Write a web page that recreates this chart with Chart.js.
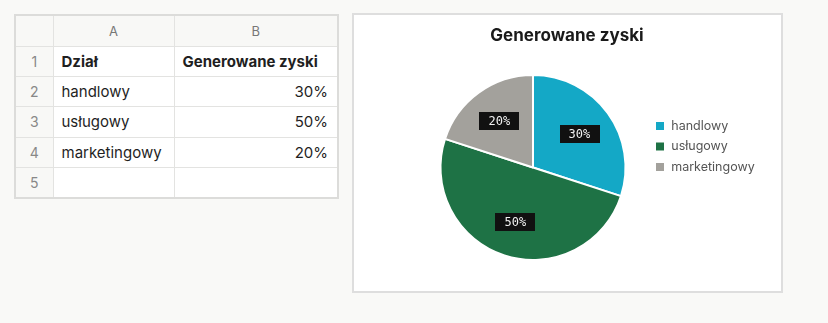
<!DOCTYPE html>
<html>
<head>
<meta charset="utf-8">
<script src="https://cdn.jsdelivr.net/npm/chart.js@4.4.1/dist/chart.umd.min.js"></script>
<style>
  html, body { margin: 0; padding: 0; }
  body { width: 828px; height: 323px; background: #f9f9f7; position: relative; overflow: hidden; font-family: Inter, "Noto Sans", sans-serif; }
  #sheet { position: absolute; left: 14px; top: 14px; border-collapse: collapse; border: 2px solid #dcdcda; background: #fff; }
  #sheet td { border: 1px solid #e3e3e1; height: 30.4px; padding: 0 8px; font-size: 15px; color: #1f1f1f; box-sizing: border-box; }
  #sheet tr.hdr td { height: 31px; background: #f8f8f6; color: #777; font-size: 13px; text-align: center; }
  #sheet td.rn { width: 38px; background: #f8f8f6; color: #888; text-align: center; font-size: 14px; padding: 0; }
  #sheet td.ca { width: 121px; }
  #sheet td.cb { width: 164px; text-align: right; padding-right: 9px; }
  #sheet td.b { font-weight: 700; }
  #sheet td.lb { text-align: left; padding-left: 8px; }
  #panel { position: absolute; left: 352px; top: 13px; width: 431px; height: 280px; box-sizing: border-box; border: 2px solid #dedede; background: #fff; }
  #wrap { position: absolute; left: 0; top: 0; width: 427px; height: 276px; }
</style>
</head>
<body>
<table id="sheet">
  <tr class="hdr"><td class="rn"></td><td class="ca" style="text-align:center">A</td><td class="cb" style="text-align:center;padding-right:8px">B</td></tr>
  <tr><td class="rn">1</td><td class="ca b">Dział</td><td class="cb b lb">Generowane zyski</td></tr>
  <tr><td class="rn">2</td><td class="ca" id="c2"></td><td class="cb" id="v2"></td></tr>
  <tr><td class="rn">3</td><td class="ca" id="c3"></td><td class="cb" id="v3"></td></tr>
  <tr><td class="rn">4</td><td class="ca" id="c4"></td><td class="cb" id="v4"></td></tr>
  <tr><td class="rn">5</td><td class="ca"></td><td class="cb"></td></tr>
</table>
<div id="panel"><div id="wrap"><canvas id="c"></canvas></div></div>
<script>
const chartTitle = 'Generowane zyski';
const categories = ['handlowy', 'usługowy', 'marketingowy'];
const values = [30, 50, 20];
const colors = ['#14a8c6', '#1e7245', '#a3a19c'];

categories.forEach((c, i) => {
  document.getElementById('c' + (i + 2)).textContent = c;
  document.getElementById('v' + (i + 2)).textContent = values[i] + '%';
});

// let the narrow legend box draw its labels past its right edge
const legendWiden = {
  id: 'legendWiden',
  afterLayout(chart) {
    const l = chart.legend;
    if (l) { l.right += 60; l.width += 60; }
  }
};

const labelPlugin = {
  id: 'sliceLabels',
  afterDatasetsDraw(chart) {
    const ctx = chart.ctx;
    const meta = chart.getDatasetMeta(0);
    ctx.save();
    ctx.font = '12px "DejaVu Sans Mono", monospace';
    ctx.textAlign = 'center';
    ctx.textBaseline = 'middle';
    meta.data.forEach((arc, i) => {
      const p = arc.getProps(['x', 'y', 'startAngle', 'endAngle', 'outerRadius'], true);
      const mid = (p.startAngle + p.endAngle) / 2;
      const r = p.outerRadius * 0.62;
      const x = p.x + Math.cos(mid) * r;
      const y = p.y + Math.sin(mid) * r;
      const txt = values[i] + '%';
      const w = ctx.measureText(txt).width + 18;
      const h = 18;
      ctx.fillStyle = '#111';
      ctx.fillRect(Math.round(x - w / 2), Math.round(y - h / 2), Math.round(w), h);
      ctx.fillStyle = '#f0f0f0';
      ctx.fillText(txt, x, y + 1);
    });
    ctx.restore();
  }
};

new Chart(document.getElementById('c'), {
  type: 'pie',
  data: {
    labels: categories,
    datasets: [{ data: values, backgroundColor: colors, borderColor: '#ffffff', borderWidth: 2 }]
  },
  options: {
    responsive: true,
    maintainAspectRatio: false,
    animation: false,
    layout: { padding: { left: 65, right: 66, top: 0, bottom: 30 } },
    plugins: {
      title: {
        display: true, text: chartTitle, color: '#1a1a1a',
        font: { family: 'Inter', size: 17, weight: '700' },
        padding: { top: 10.8, bottom: 27.8 }
      },
      legend: {
        position: 'right',
        maxWidth: 68,
        title: { display: true, text: '', font: { size: 10 }, padding: 2.5 },
        labels: {
          boxWidth: 10, boxHeight: 10, padding: 8, color: '#555',
          font: { family: 'Inter', size: 12.5 }
        }
      },
      tooltip: { enabled: false }
    }
  },
  plugins: [legendWiden, labelPlugin]
});
</script>
</body>
</html>
